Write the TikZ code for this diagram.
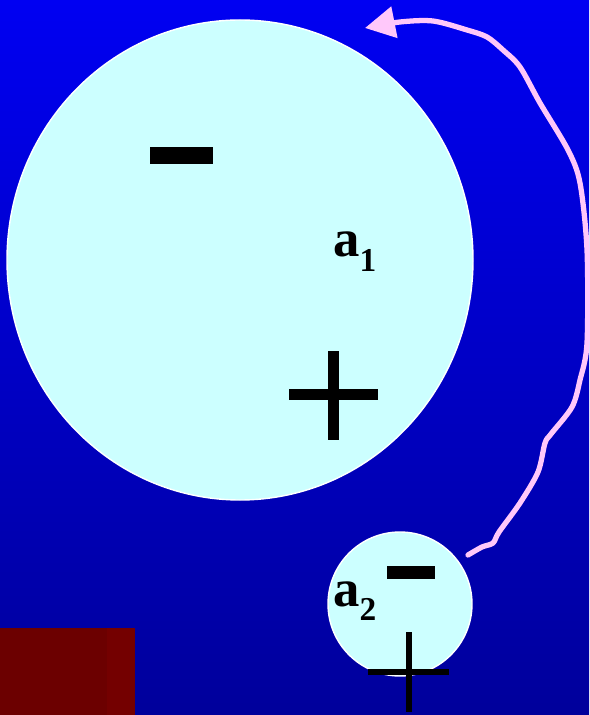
\documentclass[tikz,border=0pt]{standalone}
\usepackage{fontspec}
\setmainfont{Liberation Serif}
\usetikzlibrary{arrows.meta}
\definecolor{bgtop}{RGB}{0,0,242}
\definecolor{bgbottom}{RGB}{0,0,155}
\definecolor{ballcyan}{RGB}{204,255,255}
\definecolor{darkred}{RGB}{108,0,0}
\definecolor{darkredband}{RGB}{116,0,0}
\definecolor{arrowpink}{RGB}{255,200,250}
\newcommand{\subfont}{\fontsize{19}{19}\selectfont}

\begin{document}
\begin{tikzpicture}[x=0.02cm, y=-0.02cm,
  ball/.style={fill=ballcyan, draw=white, line width=0.8pt},
  sign/.style={fill=black},
  lbl/.style={font=\fontsize{30}{30}\selectfont\bfseries, inner sep=0pt, text=black},
  looparrow/.style={draw=arrowpink, line width=3pt, line cap=round,
    -{Triangle[length=0.6cm, width=0.62cm, fill=arrowpink]}}]

  % Fondo
  \shade[top color=bgtop, bottom color=bgbottom] (0,0) rectangle (589,715);
  \useasboundingbox (0,0) rectangle (589,715);

  % Bloque rojo inferior izquierdo
  \fill[darkred] (0,628) rectangle (107,715);
  \fill[darkredband] (107,628) rectangle (135,715);

  % Esfera grande a_1
  \draw[ball] (240,260) ellipse [x radius=233, y radius=240];
  \fill[sign] (150,147) rectangle (213,164);
  \fill[sign] (289,389) rectangle (378,400);
  \fill[sign] (328,351) rectangle (339,440);
  \node[lbl, anchor=base west] (a1) at (333,257) {a\raisebox{-0.3cm}{\subfont 1}};

  % Esfera pequena a_2
  \draw[ball] (400,604) circle [radius=72];
  \fill[sign] (387,566) rectangle (435,579);
  \fill[sign] (368,669) rectangle (449,675);
  \fill[sign] (406,632) rectangle (412,712);
  \node[lbl, anchor=base west] (a2) at (333,606) {a\raisebox{-0.28cm}{\subfont 2}};

  % Flecha
  \coordinate (tail) at (468,555);
  \coordinate (head) at (365,28);
  \draw[looparrow] plot[smooth, tension=0.5] coordinates {(tail) (482,547) (493,543)
    (499,532) (520,503) (538,472) (545,443) (551,434) (572,407) (580,380)
    (587,343) (587,250) (580,183) (568,150) (540,103) (520,67) (503,50)
    (487,37) (467,30) (433,21) (400,22) (head)};
\end{tikzpicture}
\end{document}
